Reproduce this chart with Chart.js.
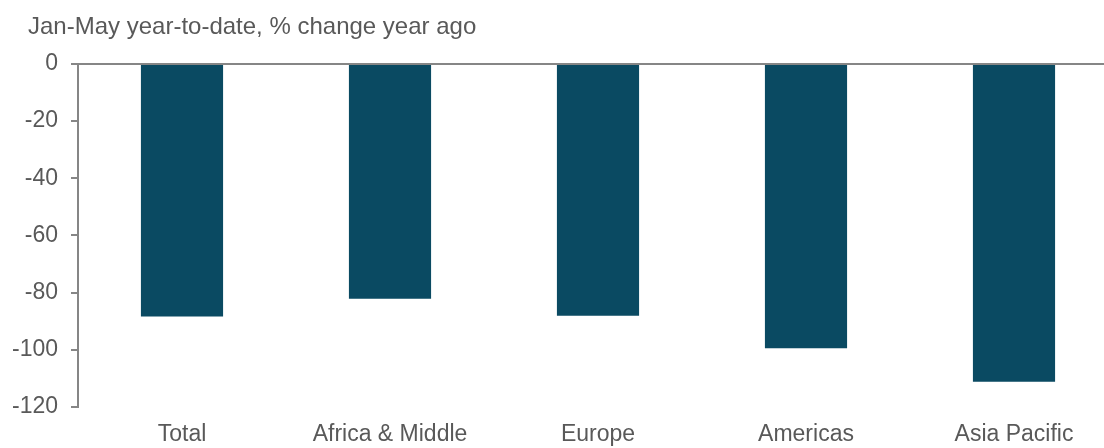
<!DOCTYPE html>
<html>
<head>
<meta charset="utf-8">
<script src="https://cdn.jsdelivr.net/npm/chart.js@4/dist/chart.umd.min.js"></script>
<style>
    html, body { margin: 0; padding: 0; background: #ffffff; overflow: hidden; }
    canvas { display: block; }
</style>
</head>
<body>
<canvas id="regions" width="1118" height="490"></canvas>
<script>
// Jan-May year-to-date, % change year ago, by region
var regionLabels = ['Total', ['Africa & Middle', 'East'], 'Europe', 'Americas', 'Asia Pacific'];
var changeValues = [-88.4, -82.2, -88.1, -99.5, -111.2];
var yTicks = [0, -20, -40, -60, -80, -100, -120];
var caption = 'Jan-May year-to-date, % change year ago';

var barColour = '#0a4a62';
var axisColour = '#868686';
var textColour = '#595959';
var fontFamily = '"Liberation Sans", Arial, sans-serif';

// caption drawn above the plot, left aligned
var captionPlugin = {
    id: 'caption',
    afterDraw: function(chart) {
        var ctx = chart.ctx;
        ctx.save();
        ctx.font = '24px ' + fontFamily;
        ctx.fillStyle = textColour;
        ctx.textBaseline = 'alphabetic';
        ctx.textAlign = 'left';
        ctx.fillText(caption, 28, 34);
        ctx.restore();
    }
};

var ctx = document.getElementById('regions');
var regionChart = new Chart(ctx, {
    type: 'bar',
    data: {
        labels: regionLabels,
        datasets: [{
            data: changeValues,
            backgroundColor: barColour,
            borderWidth: 0,
            categoryPercentage: 1,
            barPercentage: 0.395
        }]
    },
    options: {
        responsive: false,
        animation: false,
        layout: {
            padding: { top: 64, left: 0, right: 0, bottom: 0 }
        },
        plugins: {
            legend: { display: false },
            title: { display: false },
            tooltip: { enabled: false }
        },
        scales: {
            x: {
                grid: { display: false, drawTicks: false },
                border: { display: false },
                ticks: {
                    color: textColour,
                    font: { family: fontFamily, size: 23 },
                    padding: 14,
                    maxRotation: 0,
                    autoSkip: false
                }
            },
            y: {
                min: -120,
                max: 0,
                afterBuildTicks: function(scale) {
                    scale.ticks = yTicks.map(function(v) { return { value: v }; });
                },
                afterFit: function(scale) {
                    scale.width = 78;
                },
                grid: {
                    drawOnChartArea: true,
                    drawTicks: true,
                    tickLength: 7,
                    lineWidth: 2,
                    tickColor: axisColour,
                    color: function(c) {
                        return c.tick && c.tick.value === 0 ? axisColour : 'rgba(0,0,0,0)';
                    }
                },
                border: { display: true, color: axisColour, width: 2 },
                ticks: {
                    color: textColour,
                    font: { family: fontFamily, size: 23 },
                    padding: 13
                }
            }
        }
    },
    plugins: [captionPlugin]
});
</script>
</body>
</html>
